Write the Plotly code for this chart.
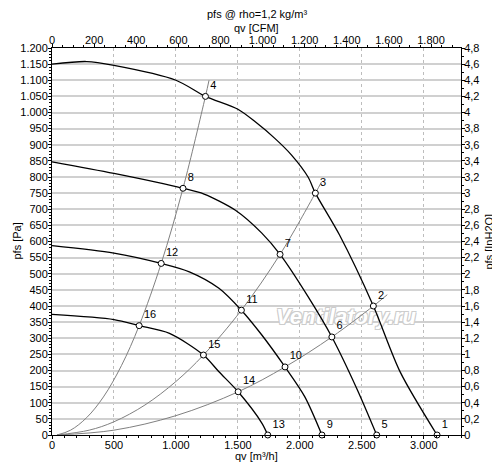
import plotly.graph_objects as go

# Fan curves (qv [m3/h], pfs [Pa]), top to bottom
fan1_q = [0, 280, 500, 1000, 1238, 1500, 1640, 1800, 1933, 2066, 2125, 2320, 2593, 2810, 3107]
fan1_p = [1150, 1158, 1146, 1100, 1050, 1010, 971, 919, 868, 800, 750, 620, 400, 195, 0]
fan2_q = [0, 500, 1057, 1227, 1480, 1693, 1840, 2066, 2258, 2465, 2620]
fan2_p = [847, 811, 765, 747, 697, 626, 560, 429, 304, 139, 0]
fan3_q = [0, 500, 881, 1108, 1347, 1528, 1693, 1880, 2039, 2178]
fan3_p = [587, 564, 532, 506, 455, 387, 310, 211, 119, 0]
fan4_q = [0, 500, 703, 948, 1222, 1347, 1502, 1693, 1741]
fan4_p = [374, 358, 339, 315, 248, 196, 134, 37, 0]

# System curves (thin grey)
sys1_q = [40, 150, 280, 415, 560, 703, 881, 1057, 1238, 1267]
sys1_p = [0, 15, 54, 118, 215, 339, 532, 765, 1050, 1100]
sys2_q = [40, 300, 500, 750, 1000, 1222, 1528, 1840, 2125, 2175]
sys2_p = [0, 15, 41, 93, 166, 248, 387, 560, 750, 785]
sys3_q = [40, 500, 1000, 1502, 1880, 2258, 2593, 2705]
sys3_p = [0, 15, 60, 134, 211, 304, 400, 435]

# Operating points
op_q = [3107, 2593, 2125, 1238, 2620, 2258, 1840, 1057,
        2178, 1880, 1528, 881, 1741, 1502, 1222, 703]
op_p = [0, 400, 750, 1050, 0, 304, 560, 765,
        0, 211, 387, 532, 0, 134, 248, 339]
op_labels = [str(i) for i in range(1, 17)]

Q_MAX = 3300
CFM_PER_M3H = 0.5886
FONT = 'Liberation Sans, Arial, sans-serif'

fig = go.Figure()

# watermark, drawn first so curves sit on top of it
fig.add_trace(go.Scatter(
    x=[2372], y=[362], mode='text', text=['Ventilatory.ru'],
    textfont=dict(family=FONT, size=22, color='white', style='italic', weight='bold',
                  shadow='-1px -1px 0 #cdcdcd, 1px -1px 0 #cdcdcd, '
                         '-1px 1px 0 #cdcdcd, 1px 1px 0 #cdcdcd'),
    hoverinfo='skip', showlegend=False))

for q, p in [(sys1_q, sys1_p), (sys2_q, sys2_p), (sys3_q, sys3_p)]:
    fig.add_trace(go.Scatter(x=q, y=p, mode='lines',
                             line=dict(color='#808080', width=1, shape='spline'),
                             showlegend=False))

for q, p in [(fan1_q, fan1_p), (fan2_q, fan2_p), (fan3_q, fan3_p), (fan4_q, fan4_p)]:
    fig.add_trace(go.Scatter(x=q, y=p, mode='lines',
                             line=dict(color='black', width=1.3, shape='spline',
                                       smoothing=0.8),
                             showlegend=False))

fig.add_trace(go.Scatter(
    x=op_q, y=op_p, mode='markers+text', text=op_labels, textposition='top right',
    textfont=dict(family=FONT, size=11, color='black'),
    marker=dict(symbol='circle', size=6, color='white',
                line=dict(color='black', width=1)),
    cliponaxis=False, showlegend=False))

# invisible traces so the secondary axes are drawn
fig.add_trace(go.Scatter(x=[0], y=[0], xaxis='x2', yaxis='y', mode='markers',
                         marker=dict(opacity=0), hoverinfo='skip', showlegend=False))
fig.add_trace(go.Scatter(x=[0], y=[0], xaxis='x', yaxis='y2', mode='markers',
                         marker=dict(opacity=0), hoverinfo='skip', showlegend=False))

axis_common = dict(showline=True, linecolor='black', linewidth=1, ticks='outside',
                   ticklen=3, tickcolor='black', zeroline=False, separatethousands=True,
                   tickfont=dict(family=FONT, size=11, color='black'))

# the page body has an 8px margin, so the figure is 8px smaller than the window
fig.update_layout(
    width=492, height=458, autosize=False,
    margin=dict(l=40, r=39, t=40, b=31),
    plot_bgcolor='white', paper_bgcolor='white',
    separators=',.',
    font=dict(family=FONT, size=11, color='black'),
    xaxis=dict(range=[0, Q_MAX], dtick=500, tick0=0, showgrid=True,
               gridcolor='#bdbdbd', griddash='dot', gridwidth=1,
               ticklabelstandoff=-3,
               minor=dict(dtick=100, ticks='outside', ticklen=2, tickcolor='black'),
               **axis_common),
    xaxis2=dict(range=[0, Q_MAX * CFM_PER_M3H], dtick=200, tick0=0, overlaying='x',
                side='top', showgrid=False, ticklabelstandoff=-4,
                minor=dict(dtick=50, ticks='outside', ticklen=2, tickcolor='black'),
                **axis_common),
    yaxis=dict(range=[0, 1200], dtick=50, tick0=0, showgrid=True,
               gridcolor='#d0d0d0', gridwidth=1.5, ticklabelstandoff=-2,
               minor=dict(dtick=10, ticks='outside', ticklen=2, tickcolor='black'),
               **axis_common),
    yaxis2=dict(range=[0, 4.8], dtick=0.2, tick0=0, overlaying='y', side='right',
                showgrid=False, ticklabelstandoff=-3,
                minor=dict(dtick=0.1, ticks='outside', ticklen=2, tickcolor='black'),
                **axis_common),
    annotations=[
        dict(text='pfs @ rho=1,2 kg/m³', x=0.5, y=1, xref='paper', yref='paper',
             yanchor='middle', yshift=34, showarrow=False, font=dict(size=11)),
        dict(text='qv [CFM]', x=0.5, y=1, xref='paper', yref='paper',
             yanchor='middle', yshift=20, showarrow=False, font=dict(size=11)),
        dict(text='qv [m³/h]', x=0.5, y=0, xref='paper', yref='paper',
             yanchor='middle', yshift=-21, showarrow=False, font=dict(size=11)),
        dict(text='pfs [Pa]', x=0, y=0.5, xref='paper', yref='paper',
             xanchor='center', yanchor='middle', xshift=-36,
             textangle=-90, showarrow=False, font=dict(size=11)),
        dict(text='pfs [InH2O]', x=1, y=0.5, xref='paper', yref='paper',
             xanchor='center', yanchor='middle', xshift=27,
             textangle=-90, showarrow=False, font=dict(size=11)),
    ],
)

fig.write_html('out.html')
